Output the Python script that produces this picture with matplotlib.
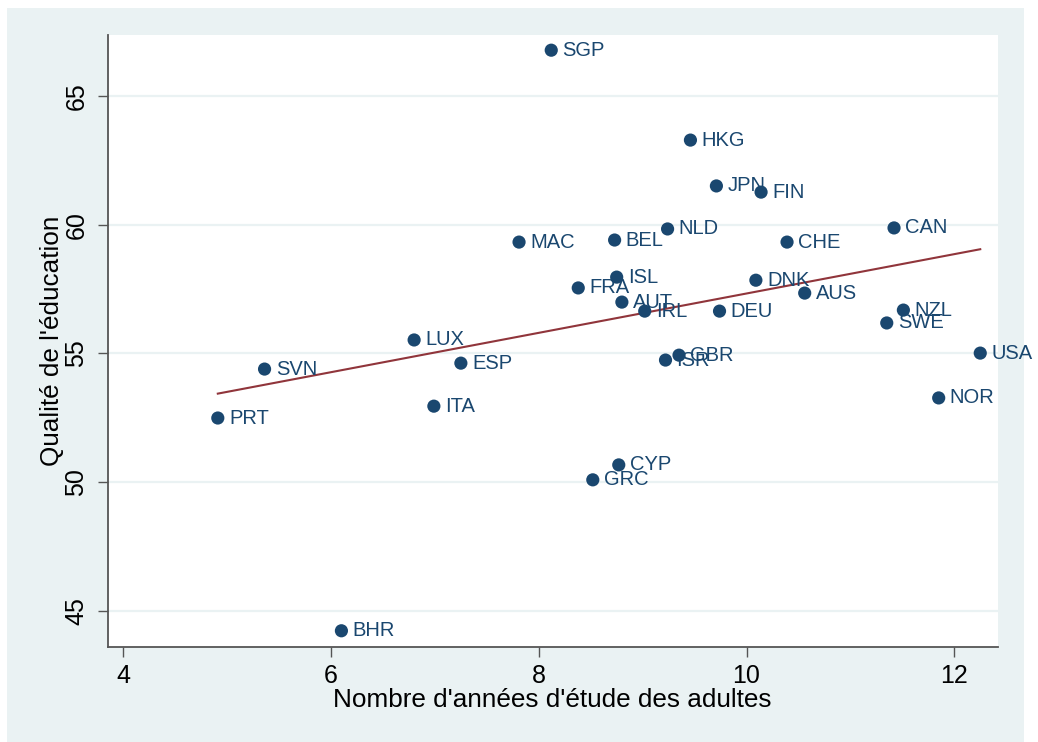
import numpy as np
import matplotlib
matplotlib.use("Agg")
import matplotlib.pyplot as plt
from matplotlib.patches import Rectangle

countries = ["SGP", "HKG", "JPN", "FIN", "NLD", "CAN", "MAC", "BEL", "CHE", "ISL",
             "DNK", "FRA", "AUS", "AUT", "IRL", "DEU", "NZL", "SWE", "LUX", "ESP",
             "GBR", "ISR", "USA", "SVN", "PRT", "ITA", "NOR", "CYP", "GRC", "BHR"]
years = [8.12, 9.46, 9.71, 10.14, 9.24, 11.42, 7.81, 8.73, 10.39, 8.75,
         10.09, 8.38, 10.56, 8.80, 9.02, 9.74, 11.51, 11.35, 6.80, 7.25,
         9.35, 9.22, 12.25, 5.36, 4.91, 6.99, 11.85, 8.77, 8.52, 6.10]
quality = [66.77, 63.28, 61.50, 61.26, 59.83, 59.87, 59.32, 59.40, 59.32, 57.96,
           57.84, 57.54, 57.34, 56.99, 56.64, 56.64, 56.68, 56.18, 55.52, 54.62,
           54.93, 54.74, 55.01, 54.39, 52.49, 52.95, 53.27, 50.67, 50.09, 44.23]
xticks = [4, 6, 8, 10, 12]
yticks = [45, 50, 55, 60, 65]
xlabel = "Nombre d'années d'étude des adultes"
ylabel = "Qualité de l'éducation"

plt.rcParams['font.family'] = ['Liberation Sans', 'DejaVu Sans']

W, H = 1038, 742
fig = plt.figure(figsize=(W / 100, H / 100), dpi=100)
fig.patch.set_facecolor('white')
bg = '#EAF2F3'
fig.patches.append(Rectangle((7 / W, 0), (1024 - 7) / W, (742 - 8) / H,
                             transform=fig.transFigure, facecolor=bg,
                             edgecolor='none', zorder=-10))

ax = fig.add_axes([107.7 / W, (H - 647) / H, (997.7 - 107.7) / W, (647 - 35) / H])
ax.set_facecolor('white')
ax.set_xlim(3.85, 12.418)
ax.set_ylim(43.60, 67.36)

for s in ['top', 'right']:
    ax.spines[s].set_visible(False)
for s in ['left', 'bottom']:
    ax.spines[s].set_color('#555555')
    ax.spines[s].set_linewidth(1.3)

ax.set_xticks(xticks)
ax.set_yticks(yticks)
ax.tick_params(axis='both', direction='out', length=7, width=1.0, color='#555555',
               labelsize=18, labelcolor='black')
ax.tick_params(axis='x', pad=5)
ax.tick_params(axis='y', pad=7)
for lab in ax.get_yticklabels():
    lab.set_rotation(90)
    lab.set_va('center')
ax.yaxis.grid(True, color=bg, linewidth=1.6, zorder=0)
ax.set_axisbelow(True)

ax.set_xlabel(xlabel, fontsize=18.8, labelpad=0)
ax.set_ylabel(ylabel, fontsize=18.8, labelpad=0.5)

x = np.array(years)
y = np.array(quality)
b, a = np.polyfit(x, y, 1)
xs = np.array([x.min(), x.max()])
ax.plot(xs, a + b * xs, color='#90353B', linewidth=1.5, zorder=2)

ax.scatter(x, y, s=90, color='#1A476F', edgecolors='none', zorder=3)
for c, xi, yi in zip(countries, x, y):
    ax.annotate(c, (xi, yi), xytext=(8, 0), textcoords='offset points',
                va='center', ha='left', fontsize=14.5, color='#1A476F', zorder=4)

fig.savefig('out.png', dpi=100, facecolor='white')
